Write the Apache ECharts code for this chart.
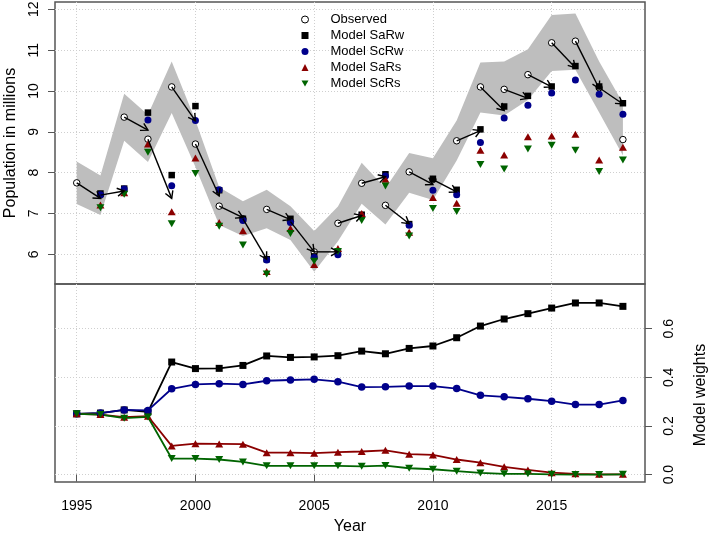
<!DOCTYPE html>
<html><head><meta charset="utf-8">
<script src="https://cdn.jsdelivr.net/npm/echarts@6/dist/echarts.min.js"></script>
<style>html,body{margin:0;padding:0;background:#fff}#c{width:709px;height:536px}</style>
</head><body><div id="c"></div>
<script>
const years = [1995,1996,1997,1998,1999,2000,2001,2002,2003,2004,2005,2006,2007,2008,2009,2010,2011,2012,2013,2014,2015,2016,2017,2018];
const observed = [7.75,7.45,9.36,8.82,10.10,8.70,7.18,6.87,7.10,6.80,6.06,6.76,7.74,7.20,8.02,7.83,8.78,10.10,10.04,10.40,11.18,11.22,10.08,8.81];
const modelSaRw = [null,7.49,7.61,9.47,7.94,9.63,7.57,6.87,5.88,6.87,5.95,6.05,6.97,7.96,6.74,7.85,7.58,9.06,9.62,9.88,10.11,10.61,10.11,9.70];
const modelScRw = [null,7.46,7.60,9.29,7.68,9.28,7.58,6.83,5.86,6.78,5.92,5.99,6.93,7.92,6.71,7.57,7.46,8.74,9.34,9.65,9.95,10.27,9.92,9.43];
const modelSaRs = [null,7.21,7.51,8.70,7.04,8.36,6.78,6.58,5.58,6.63,5.75,6.14,7.00,7.84,6.54,7.39,7.25,8.55,8.43,8.88,8.90,8.94,8.31,8.62];
const modelScRs = [null,7.14,7.47,8.50,6.75,7.98,6.69,6.23,5.52,6.51,5.83,6.07,6.83,7.67,6.45,7.12,7.05,8.20,8.09,8.58,8.67,8.55,8.03,8.31];
const averagedPrediction = [null,7.37,7.55,9.04,7.37,9.27,7.43,6.90,5.88,6.85,6.06,6.06,6.95,7.90,6.75,7.71,7.53,9.03,9.52,9.82,10.10,10.57,10.06,9.68];
const bandLower = [7.23,6.96,8.78,8.26,9.46,8.14,6.72,6.45,6.64,6.35,5.57,6.32,7.24,6.73,7.51,7.33,8.30,9.47,9.40,9.78,10.49,10.52,9.47,8.42];
const bandUpper = [8.27,7.93,9.93,9.42,10.72,9.28,7.64,7.30,7.58,7.18,6.57,7.17,8.24,7.62,8.48,8.35,9.28,10.70,10.72,11.02,11.86,11.90,10.72,9.70];
const weightSaRw = [0.25,0.253,0.266,0.258,0.463,0.436,0.437,0.449,0.488,0.482,0.484,0.489,0.508,0.497,0.519,0.529,0.563,0.611,0.640,0.662,0.685,0.706,0.706,0.692];
const weightScRw = [0.25,0.253,0.266,0.264,0.353,0.371,0.374,0.371,0.386,0.389,0.392,0.382,0.360,0.361,0.364,0.364,0.354,0.326,0.320,0.312,0.302,0.288,0.288,0.305];
const weightSaRs = [0.25,0.247,0.236,0.240,0.118,0.127,0.126,0.125,0.090,0.090,0.088,0.092,0.095,0.100,0.084,0.081,0.062,0.049,0.032,0.019,0.008,0.003,0.001,0.001];
const weightScRs = [0.25,0.247,0.232,0.237,0.066,0.066,0.062,0.052,0.036,0.036,0.036,0.036,0.034,0.037,0.026,0.022,0.014,0.007,0.003,0.003,0.001,0.000,0.000,0.001];
const yearTicks = [1995,2000,2005,2010,2015];
const populationTicks = [6,7,8,9,10,11,12];
const weightTicks = [0,0.2,0.4,0.6];

const FONT = '"Liberation Sans", Arial, Helvetica, sans-serif';
const BLUE = '#00008B', RED = '#8B0000', GREEN = '#006400';
const pair = (arr) => years.map((y, i) => [y, arr[i]]).filter(d => d[1] != null);
const gridLine = {show: true, lineStyle: {color: '#cfcfcf', type: [1, 2], width: 1}};
const DOWN_TRIANGLE = 'path://M0,0 L10,0 L5,8.7 Z';

const chart = echarts.init(document.getElementById('c'), null, {renderer: 'canvas'});
const option = {
  animation: false,
  backgroundColor: '#fff',
  textStyle: {fontFamily: FONT},
  grid: [
    {left: 55, right: 64, top: 2, height: 282, show: true, borderColor: '#555', borderWidth: 1.5, backgroundColor: 'transparent', containLabel: false, outerBoundsMode: 'none'},
    {left: 55, right: 64, top: 284, height: 198, show: true, borderColor: '#555', borderWidth: 1.5, backgroundColor: 'transparent', containLabel: false, outerBoundsMode: 'none'}
  ],
  xAxis: [
    {type: 'value', gridIndex: 0, min: 1994.086, max: 2018.93,
     axisLine: {show: false}, axisTick: {show: false, customValues: yearTicks},
     axisLabel: {show: false, customValues: yearTicks}, splitLine: gridLine},
    {type: 'value', gridIndex: 1, min: 1994.086, max: 2018.93,
     name: 'Year', nameLocation: 'middle', nameGap: 37,
     nameTextStyle: {fontSize: 16, color: '#000', fontFamily: FONT},
     axisLine: {show: false},
     axisTick: {show: true, length: 7, customValues: yearTicks, lineStyle: {color: '#555'}},
     axisLabel: {show: true, customValues: yearTicks, margin: 17, fontSize: 14, color: '#000', fontFamily: FONT, formatter: v => String(v)},
     splitLine: gridLine}
  ],
  yAxis: [
    {type: 'value', gridIndex: 0, min: 5.273, max: 12.179, position: 'left',
     name: 'Population in millions', nameLocation: 'middle', nameGap: 36, nameRotate: 90,
     nameTextStyle: {fontSize: 16, color: '#000', fontFamily: FONT},
     axisLine: {show: false},
     axisTick: {show: true, length: 7, customValues: populationTicks, lineStyle: {color: '#555'}},
     axisLabel: {show: true, rotate: 90, customValues: populationTicks, margin: 14, fontSize: 14, color: '#000', fontFamily: FONT},
     splitLine: gridLine},
    {type: 'value', gridIndex: 1, min: -0.0305, max: 0.784, position: 'right',
     axisLine: {show: false},
     axisTick: {show: true, length: 7, customValues: weightTicks, lineStyle: {color: '#555'}},
     axisLabel: {show: true, rotate: 90, customValues: weightTicks, margin: 17, fontSize: 14, color: '#000', fontFamily: FONT, formatter: v => v.toFixed(1)},
     splitLine: gridLine}
  ],
  legend: {
    orient: 'vertical', left: 296, top: 8, itemWidth: 7, itemHeight: 7, itemGap: 3,
    selectedMode: false,
    data: [
      {name: 'Observed', icon: 'circle', itemStyle: {color: '#fff', borderColor: '#000', borderWidth: 1}},
      {name: 'Model SaRw', icon: 'rect'},
      {name: 'Model ScRw', icon: 'circle'},
      {name: 'Model SaRs', icon: 'triangle'},
      {name: 'Model ScRs', icon: DOWN_TRIANGLE, itemStyle: {color: GREEN}}
    ],
    textStyle: {fontSize: 13, color: '#000', fontFamily: FONT, padding: [0, 0, 0, 17]}
  },
  graphic: [{
    type: 'text', x: 701, y: 395, rotation: Math.PI / 2,
    style: {text: 'Model weights', fontSize: 16, fill: '#000', font: '16px ' + FONT, align: 'center', verticalAlign: 'middle'}
  }],
  series: [
    {type: 'custom', name: 'band', xAxisIndex: 0, yAxisIndex: 0, z: 1, silent: true, clip: true,
     data: [[years[0], bandLower[0]]],
     renderItem: function (params, api) {
       const pts = [];
       for (let i = 0; i < years.length; i++) pts.push(api.coord([years[i], bandUpper[i]]));
       for (let i = years.length - 1; i >= 0; i--) pts.push(api.coord([years[i], bandLower[i]]));
       return {type: 'polygon', shape: {points: pts}, style: {fill: '#BEBEBE'}};
     }},
    {type: 'scatter', name: 'Observed', xAxisIndex: 0, yAxisIndex: 0, z: 3, symbol: 'circle', symbolSize: 6.5,
     itemStyle: {color: '#fff', borderColor: '#000', borderWidth: 1, opacity: 1}, data: pair(observed)},
    {type: 'scatter', name: 'Model SaRw', xAxisIndex: 0, yAxisIndex: 0, z: 3, symbol: 'rect', symbolSize: 6.5,
     itemStyle: {color: '#000', opacity: 1}, data: pair(modelSaRw)},
    {type: 'scatter', name: 'Model ScRw', xAxisIndex: 0, yAxisIndex: 0, z: 3, symbol: 'circle', symbolSize: 7,
     itemStyle: {color: BLUE, opacity: 1}, data: pair(modelScRw)},
    {type: 'scatter', name: 'Model SaRs', xAxisIndex: 0, yAxisIndex: 0, z: 3, symbol: 'triangle', symbolSize: [8, 7],
     itemStyle: {color: RED, opacity: 1}, data: pair(modelSaRs)},
    {type: 'scatter', name: 'Model ScRs', xAxisIndex: 0, yAxisIndex: 0, z: 3, symbol: 'triangle', symbolRotate: 180, symbolSize: [8, 7],
     itemStyle: {color: GREEN, opacity: 1}, data: pair(modelScRs)},
    {type: 'custom', name: 'arrows', xAxisIndex: 0, yAxisIndex: 0, z: 4, silent: true,
     data: years.slice(1).map((y, k) => [years[k], observed[k], y, averagedPrediction[k + 1]]),
     encode: {x: [0, 2], y: [1, 3]},
     renderItem: function (params, api) {
       const p1 = api.coord([api.value(0), api.value(1)]);
       const p2 = api.coord([api.value(2), api.value(3)]);
       const ang = Math.atan2(p2[1] - p1[1], p2[0] - p1[0]);
       const L = 8, a = Math.PI / 6;
       const h1 = [p2[0] - L * Math.cos(ang - a), p2[1] - L * Math.sin(ang - a)];
       const h2 = [p2[0] - L * Math.cos(ang + a), p2[1] - L * Math.sin(ang + a)];
       return {type: 'group', children: [
         {type: 'line', shape: {x1: p1[0], y1: p1[1], x2: p2[0], y2: p2[1]}, style: {stroke: '#000', lineWidth: 1.4}},
         {type: 'polyline', shape: {points: [h1, p2, h2]}, style: {stroke: '#000', fill: null, lineWidth: 1.4}}
       ]};
     }},
    {type: 'line', name: 'weight SaRw', xAxisIndex: 1, yAxisIndex: 1, z: 3, symbol: 'rect', symbolSize: 7, showAllSymbol: true,
     lineStyle: {color: '#000', width: 1.8}, itemStyle: {color: '#000'}, data: pair(weightSaRw)},
    {type: 'line', name: 'weight ScRw', xAxisIndex: 1, yAxisIndex: 1, z: 3, symbol: 'circle', symbolSize: 7.5, showAllSymbol: true,
     lineStyle: {color: BLUE, width: 1.8}, itemStyle: {color: BLUE}, data: pair(weightScRw)},
    {type: 'line', name: 'weight SaRs', xAxisIndex: 1, yAxisIndex: 1, z: 3, symbol: 'triangle', symbolSize: [8, 7], showAllSymbol: true,
     lineStyle: {color: RED, width: 1.8}, itemStyle: {color: RED}, data: pair(weightSaRs)},
    {type: 'line', name: 'weight ScRs', xAxisIndex: 1, yAxisIndex: 1, z: 3, symbol: 'triangle', symbolRotate: 180, symbolSize: [8, 7], showAllSymbol: true,
     lineStyle: {color: GREEN, width: 1.8}, itemStyle: {color: GREEN}, data: pair(weightScRs)}
  ]
};
chart.setOption(option);
</script>
</body></html>
